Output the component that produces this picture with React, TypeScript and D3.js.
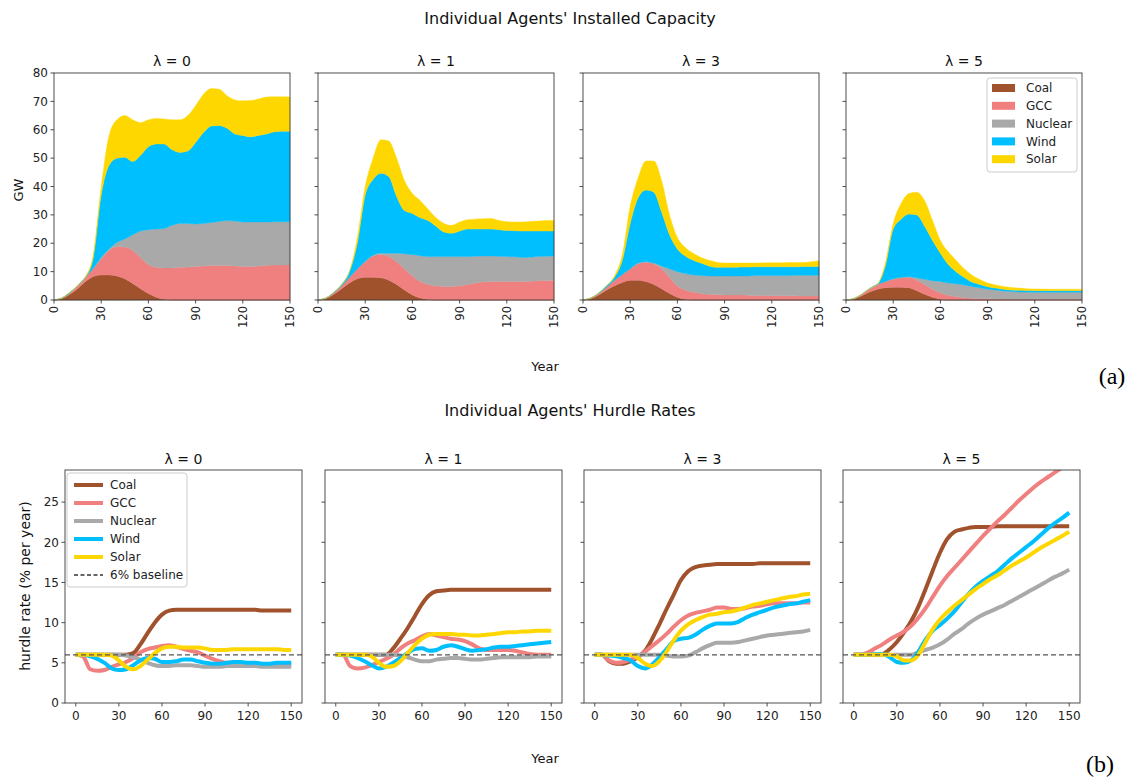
import React from "react";
import * as d3 from "d3";

const YEARS = [0,5,10,15,20,25,30,35,40,45,50,55,60,65,70,75,80,85,90,95,100,105,110,115,120,125,130,135,140,145,150];
const TECHS = ["Coal", "GCC", "Nuclear", "Wind", "Solar"];
const COLORS = ["#a0522d", "#f08080", "#a9a9a9", "#00bfff", "#ffd700"];
const LAMBDAS = ["λ = 0", "λ = 1", "λ = 3", "λ = 5"];
const CAP_TICKS_Y = [0,10,20,30,40,50,60,70,80];
const YEAR_TICKS = [0,30,60,90,120,150];
const HR_TICKS_Y = [0,5,10,15,20,25];

// Installed capacity (GW), per technology, λ = 0
const capCoal0 = [0,0.5,2,4,6.5,8.3,8.8,8.8,8.5,7.5,5.8,4,2.3,1,0.3,0,0,0,0,0,0,0,0,0,0,0,0,0,0,0,0];
const capGcc0 = [0,0.2,0.5,1,1.5,2.7,5.7,8.7,10.3,11.2,11.7,11,10.2,10.5,11,11.3,11.5,11.6,11.8,12,12.2,12.2,12.2,12,11.8,11.8,12,12.2,12.3,12.3,12.3];
const capNuc0 = [0,0,0,0,0,0.2,0.5,0.5,1.5,2.8,5.5,9.3,12.3,13.5,13.9,15,15.5,15.4,15,15,15.1,15.5,15.8,15.8,15.7,15.7,15.5,15.3,15.3,15.3,15.3];
const capWind0 = [0,0,0.2,0,0,3.8,22,29.5,29.7,28.8,25.8,26.7,29.2,30,29.8,26.7,25,25.5,28.7,32,34,33.8,32.5,30.7,30.5,30,30.5,31,31.7,31.9,31.9];
const capSolar0 = [0,0,0,0,0.2,1,3,10.5,13.5,14.7,14.7,11.5,9.5,9,8.8,10.5,11.5,12.5,13,13.5,13.2,12.8,11.5,12,12.2,12.8,12.8,13,12.3,12.1,12];
// λ = 1
const capCoal1 = [0,0.5,2,4,6,7.5,8,8,7.8,7,5.5,3.5,1.8,0.7,0.2,0,0,0,0,0,0,0,0,0,0,0,0,0,0,0,0];
const capGcc1 = [0,0.2,0.5,1,2,3.5,5.5,7.5,8.2,8.3,8,7.5,6.7,5.8,5.3,5,4.8,4.8,5,5.5,6,6.3,6.5,6.5,6.5,6.5,6.5,6.6,6.8,6.9,7];
const capNuc1 = [0,0,0,0,0,0,0.2,0.3,0.5,1.2,3,5.3,7.5,9.1,9.8,10.3,10.5,10.5,10.3,9.8,9.4,9.2,9,8.9,8.8,8.7,8.5,8.5,8.5,8.5,8.5];
const capWind1 = [0,0,0.2,0.5,2,9,23.3,26.7,28.2,27,20,15.2,14.5,13.4,12.7,10.7,8.7,8.2,9,9.7,9.6,9.5,9.5,9.4,9.2,9.2,9.3,9.2,9,8.9,8.8];
const capSolar1 = [0,0,0,0,0,2,3,7.5,11.8,12.5,13.5,10.5,7,6,4,3,3,2.8,3.2,3.3,3.5,3.6,3.7,3.2,3.1,3.1,3.2,3.4,3.5,3.7,3.7];
// λ = 3
const capCoal3 = [0,0.5,1.8,3.5,5,6.2,7,7,6.5,5.5,4,2.3,1,0.3,0,0,0,0,0,0,0,0,0,0,0,0,0,0,0,0,0];
const capGcc3 = [0,0.2,0.5,1,2,2.8,4,5.8,6.8,7.3,7,5.7,4,3.2,2.8,2.3,2,1.9,1.8,1.8,1.8,1.7,1.6,1.6,1.5,1.5,1.5,1.5,1.4,1.4,1.4];
const capNuc3 = [0,0,0,0,0,0,0,0.2,0.2,0.2,1,3,5,5.8,6,6.3,6.5,6.6,6.7,6.7,6.7,6.8,7,7,7.1,7.1,7.1,7.2,7.3,7.3,7.3];
const capWind3 = [0,0,0.2,0.5,1,5,16,23,25.3,25,19,12,8,6.2,5.2,4.4,3.5,3,3,3,3.1,3.1,3.1,3.1,3.1,3.1,3.1,3,3.1,3.1,3.1];
const capSolar3 = [0,0,0,0,0.5,2,6,7,10.2,11,11,7,4,3,2.5,2,2,1.8,1.5,1.5,1.4,1.4,1.3,1.4,1.4,1.4,1.5,1.5,1.4,1.7,2];
// λ = 5
const capCoal5 = [0,0.4,1.5,2.8,3.8,4.3,4.5,4.5,4.3,3.3,2,1,0.3,0,0,0,0,0,0,0,0,0,0,0,0,0,0,0,0,0,0];
const capGcc5 = [0,0.1,0.5,1.2,1.7,2.2,2.8,3.3,3.7,3.7,3.5,2.8,2.2,1.7,1.2,0.8,0.6,0.5,0.4,0.35,0.3,0.3,0.3,0.3,0.3,0.3,0.3,0.3,0.3,0.3,0.3];
const capNuc5 = [0,0,0,0,0,0,0.2,0.2,0.2,0.8,1.8,3,4,4.3,4.5,4.5,4.2,3.8,3.4,3.15,2.9,2.7,2.5,2.5,2.4,2.4,2.4,2.4,2.4,2.4,2.4];
const capWind5 = [0,0,0,0,0,5.5,17.5,20.5,22.1,22.2,18.7,14.2,10,6.5,4.3,2.7,1.5,1.2,0.9,0.7,0.6,0.5,0.6,0.55,0.6,0.6,0.6,0.6,0.6,0.6,0.6];
const capSolar5 = [0,0,0,0,0,1,2,5.5,7.2,8,9,7,4.5,4.5,4,3,2.5,1.7,1.3,1.1,1,0.9,0.8,0.65,0.6,0.55,0.5,0.5,0.5,0.5,0.5];

// Hurdle rates (% per year), λ = 0
const hrCoal0 = [6,6,6,6,6,6,6,6,6.2,7.3,8.7,10,11,11.5,11.6,11.6,11.6,11.6,11.6,11.6,11.6,11.6,11.6,11.6,11.6,11.6,11.5,11.5,11.5,11.5,11.5];
const hrGcc0 = [6,5.8,4.2,4.0,4.1,4.5,4.8,5.1,5.6,6.3,6.7,6.9,7.1,7.2,7.0,6.7,6.5,6.3,5.9,5.5,5.2,5.0,5.0,4.9,4.9,4.8,4.8,4.8,4.8,4.8,4.8];
const hrNuc0 = [6,6,6,6,6,6,6,5.9,5.7,5.4,5,4.7,4.6,4.6,4.7,4.7,4.7,4.6,4.5,4.5,4.5,4.6,4.6,4.6,4.6,4.6,4.5,4.5,4.5,4.5,4.5];
const hrWind0 = [6,6,5.8,5.5,5.0,4.3,4.1,4.2,4.7,5.3,5.6,5.5,5.1,5.1,5.2,5.4,5.4,5.2,5.0,4.9,4.9,5.0,5.1,5.1,5.0,5.0,4.9,4.9,5.0,5.0,5.0];
const hrSolar0 = [6,6,6,6,6,5.9,5.3,4.5,4.2,4.6,5.4,6.2,6.8,7.0,7.0,6.9,6.9,6.9,6.8,6.6,6.6,6.6,6.7,6.7,6.7,6.7,6.7,6.7,6.7,6.6,6.6];
// λ = 1
const hrCoal1 = [6,6,6,6,6,6,6,6,6.8,8.0,9.3,10.8,12.3,13.4,13.9,14.0,14.1,14.1,14.1,14.1,14.1,14.1,14.1,14.1,14.1,14.1,14.1,14.1,14.1,14.1,14.1];
const hrGcc1 = [6,6,4.6,4.3,4.4,4.7,5.1,5.5,6.0,6.8,7.4,7.8,8.3,8.6,8.4,8.2,8.0,7.9,7.7,7.3,6.8,6.6,6.6,6.6,6.6,6.5,6.3,6.1,6.0,6.0,6.0];
const hrNuc1 = [6,6,6,6,6,6,6,6,6,5.9,5.7,5.4,5.2,5.2,5.4,5.5,5.6,5.6,5.5,5.4,5.4,5.5,5.6,5.7,5.7,5.7,5.7,5.7,5.8,5.8,5.8];
const hrWind1 = [6,6,5.9,5.6,5.2,4.7,4.3,4.5,5.0,5.6,6.2,6.7,6.8,6.5,6.6,7.0,7.2,7.0,6.7,6.5,6.6,6.7,6.9,7.0,7.0,7.1,7.2,7.3,7.4,7.5,7.6];
const hrSolar1 = [6,6,6,6,6,5.8,5.0,4.5,4.6,5.2,6.2,7.2,8.0,8.5,8.6,8.6,8.6,8.5,8.5,8.4,8.4,8.5,8.6,8.7,8.8,8.8,8.9,8.9,9.0,9.0,9.0];
// λ = 3
const hrCoal3 = [6,6,5.2,4.9,4.9,5.2,5.7,6.5,8.0,9.8,11.7,13.5,15.3,16.4,16.9,17.1,17.2,17.3,17.3,17.3,17.3,17.3,17.3,17.4,17.4,17.4,17.4,17.4,17.4,17.4,17.4];
const hrGcc3 = [6,6,5.3,5.0,5.1,5.4,5.8,6.4,7.1,7.8,8.6,9.5,10.3,10.9,11.2,11.4,11.6,11.9,11.9,11.7,11.7,11.8,12.0,12.1,12.3,12.4,12.4,12.4,12.4,12.5,12.5];
const hrNuc3 = [6,6,6,6,6,6,6,6,6,6,5.9,5.8,5.8,5.9,6.3,6.8,7.2,7.5,7.5,7.5,7.6,7.8,8.0,8.2,8.4,8.5,8.6,8.7,8.8,8.9,9.1];
const hrWind3 = [6,6,5.9,5.8,5.6,5.3,4.6,4.3,4.8,5.7,6.7,7.7,8.0,8.1,8.5,9.1,9.6,9.9,9.9,9.9,10.1,10.6,11.0,11.3,11.6,11.9,12.1,12.3,12.4,12.6,12.8];
const hrSolar3 = [6,6,6,6,6,6,5.6,4.9,4.6,5.2,6.4,7.8,9.0,9.8,10.3,10.7,11.0,11.1,11.3,11.4,11.6,11.9,12.2,12.4,12.6,12.8,13.0,13.2,13.3,13.5,13.6];
// λ = 5
const hrCoal5 = [6,6,6,6,6.1,6.7,7.6,8.8,10.2,12.0,14.2,16.5,18.7,20.4,21.3,21.6,21.8,21.9,21.9,21.9,22.0,22.0,22.0,22.0,22.0,22.0,22.0,22.0,22.0,22.0,22.0];
const hrGcc5 = [6,6,6.3,6.8,7.3,7.9,8.4,8.9,9.6,10.6,11.8,13.2,14.6,15.8,16.8,17.8,18.8,19.8,20.8,21.7,22.6,23.4,24.3,25.2,26.0,26.8,27.5,28.1,28.7,29.3,29.9];
const hrNuc5 = [6,6,6,6,6,6,6,6,6,6.3,6.6,6.9,7.3,7.9,8.6,9.2,9.9,10.5,11.0,11.4,11.8,12.2,12.7,13.2,13.7,14.2,14.7,15.2,15.7,16.1,16.6];
const hrWind5 = [6,6,6,6.1,6.1,5.7,5.1,5.0,5.3,6.4,7.9,9.0,9.7,10.5,11.4,12.5,13.6,14.5,15.2,15.8,16.4,17.2,18.0,18.7,19.4,20.1,20.9,21.7,22.4,23.0,23.7];
const hrSolar5 = [6,6,6,6,6,6,5.8,5.3,5.3,6.0,7.6,9.2,10.4,11.3,12.1,12.8,13.5,14.2,14.8,15.4,15.9,16.5,17.1,17.6,18.1,18.7,19.3,19.8,20.3,20.8,21.3];
const BASELINE = 6;

const CAP_SETS = [
  [capCoal0, capGcc0, capNuc0, capWind0, capSolar0],
  [capCoal1, capGcc1, capNuc1, capWind1, capSolar1],
  [capCoal3, capGcc3, capNuc3, capWind3, capSolar3],
  [capCoal5, capGcc5, capNuc5, capWind5, capSolar5],
];
const HR_SETS = [
  [hrCoal0, hrGcc0, hrNuc0, hrWind0, hrSolar0],
  [hrCoal1, hrGcc1, hrNuc1, hrWind1, hrSolar1],
  [hrCoal3, hrGcc3, hrNuc3, hrWind3, hrSolar3],
  [hrCoal5, hrGcc5, hrNuc5, hrWind5, hrSolar5],
];

const FONT = "'DejaVu Sans', sans-serif";
const AXIS = "#3a3a3a";

const TOP_LEFTS = [54, 318, 583, 846];
const TOP_W = 236, TOP_Y0 = 73, TOP_Y1 = 300;
const BOT_LEFTS = [65, 325, 584, 843];
const BOT_W = 237, BOT_Y0 = 470, BOT_Y1 = 703;

function CapPanel({ idx }: { idx: number }) {
  const left = TOP_LEFTS[idx];
  const x = d3.scaleLinear().domain([0, 150]).range([left, left + TOP_W]);
  const y = d3.scaleLinear().domain([0, 80]).range([TOP_Y1, TOP_Y0]);
  const set = CAP_SETS[idx];
  const rows = YEARS.map((yr, i) => {
    const r: any = { year: yr };
    TECHS.forEach((t, k) => (r[t] = set[k][i]));
    return r;
  });
  const stacked = d3.stack().keys(TECHS)(rows);
  const area = d3
    .area<any>()
    .x((d) => x(d.data.year))
    .y0((d) => y(d[0]))
    .y1((d) => y(d[1]))
    .curve(d3.curveMonotoneX);
  return (
    <g>
      {stacked.map((s, k) => (
        <path key={k} d={area(s as any) || ""} fill={COLORS[k]} stroke={COLORS[k]} strokeWidth={0.4} />
      ))}
      <rect x={left} y={TOP_Y0} width={TOP_W} height={TOP_Y1 - TOP_Y0} fill="none" stroke={AXIS} strokeWidth={0.9} />
      {CAP_TICKS_Y.map((t) => (
        <g key={t}>
          <line x1={left - 3.5} x2={left} y1={y(t)} y2={y(t)} stroke={AXIS} strokeWidth={0.9} />
          {idx === 0 && (
            <text x={left - 6} y={y(t)} dy="0.35em" textAnchor="end" fontSize={12} fill="#222" fontFamily={FONT}>
              {t}
            </text>
          )}
        </g>
      ))}
      {YEAR_TICKS.map((t) => (
        <g key={t}>
          <line x1={x(t)} x2={x(t)} y1={TOP_Y1} y2={TOP_Y1 + 3.5} stroke={AXIS} strokeWidth={0.9} />
          <text
            transform={`translate(${x(t)},${TOP_Y1 + 6}) rotate(-90)`}
            dy="0.35em"
            textAnchor="end"
            fontSize={11.5}
            fill="#222"
            fontFamily={FONT}
          >
            {t}
          </text>
        </g>
      ))}
      <text x={left + TOP_W / 2} y={TOP_Y0 - 7} textAnchor="middle" fontSize={14} fill="#111" fontFamily={FONT}>
        {LAMBDAS[idx]}
      </text>
    </g>
  );
}

function HrPanel({ idx }: { idx: number }) {
  const left = BOT_LEFTS[idx];
  const x = d3.scaleLinear().domain([-7.5, 157.5]).range([left, left + BOT_W]);
  const y = d3.scaleLinear().domain([0, 29]).range([BOT_Y1, BOT_Y0]);
  const set = HR_SETS[idx];
  const line = d3
    .line<number>()
    .x((_, i) => x(YEARS[i]))
    .y((d) => y(d))
    .curve(d3.curveMonotoneX);
  const clipId = `hrclip${idx}`;
  return (
    <g>
      <defs>
        <clipPath id={clipId}>
          <rect x={left} y={BOT_Y0} width={BOT_W} height={BOT_Y1 - BOT_Y0} />
        </clipPath>
      </defs>
      <g clipPath={`url(#${clipId})`}>
        {set.map((s, k) => (
          <path key={k} d={line(s) || ""} fill="none" stroke={COLORS[k]} strokeWidth={4} strokeLinejoin="round" />
        ))}
        <line
          x1={left}
          x2={left + BOT_W}
          y1={y(BASELINE)}
          y2={y(BASELINE)}
          stroke="#555"
          strokeWidth={1.3}
          strokeDasharray="5,3"
        />
      </g>
      <rect x={left} y={BOT_Y0} width={BOT_W} height={BOT_Y1 - BOT_Y0} fill="none" stroke={AXIS} strokeWidth={0.9} />
      {HR_TICKS_Y.map((t) => (
        <g key={t}>
          <line x1={left - 3.5} x2={left} y1={y(t)} y2={y(t)} stroke={AXIS} strokeWidth={0.9} />
          {idx === 0 && (
            <text x={left - 6} y={y(t)} dy="0.35em" textAnchor="end" fontSize={12} fill="#222" fontFamily={FONT}>
              {t}
            </text>
          )}
        </g>
      ))}
      {YEAR_TICKS.map((t) => (
        <g key={t}>
          <line x1={x(t)} x2={x(t)} y1={BOT_Y1} y2={BOT_Y1 + 3.5} stroke={AXIS} strokeWidth={0.9} />
          <text x={x(t)} y={BOT_Y1 + 17} textAnchor="middle" fontSize={12} fill="#222" fontFamily={FONT}>
            {t}
          </text>
        </g>
      ))}
      <text x={left + BOT_W / 2} y={BOT_Y0 - 6} textAnchor="middle" fontSize={14} fill="#111" fontFamily={FONT}>
        {LAMBDAS[idx]}
      </text>
    </g>
  );
}

function CapLegend() {
  const x0 = 987, y0 = 78;
  return (
    <g fontFamily={FONT}>
      <rect x={x0} y={y0} width={90} height={94} rx={3} fill="white" fillOpacity={0.85} stroke="#ccc" />
      {TECHS.map((t, k) => (
        <g key={t}>
          <rect x={x0 + 5} y={y0 + 6 + k * 17.8} width={23} height={8} fill={COLORS[k]} />
          <text x={x0 + 39} y={y0 + 10 + k * 17.8} dy="0.35em" fontSize={12} fill="#222">
            {t}
          </text>
        </g>
      ))}
    </g>
  );
}

function HrLegend() {
  const x0 = 67, y0 = 473;
  const items = [...TECHS.map((t, k) => ({ t, c: COLORS[k], dash: false })), { t: "6% baseline", c: "#333", dash: true }];
  return (
    <g fontFamily={FONT}>
      <rect x={x0} y={y0} width={120} height={114} rx={3} fill="white" fillOpacity={0.85} stroke="#ccc" />
      {items.map((it, k) => (
        <g key={it.t}>
          <line
            x1={x0 + 7}
            x2={x0 + 36}
            y1={y0 + 12 + k * 18}
            y2={y0 + 12 + k * 18}
            stroke={it.c}
            strokeWidth={it.dash ? 1.3 : 4}
            strokeDasharray={it.dash ? "4,2.5" : undefined}
          />
          <text x={x0 + 43} y={y0 + 12 + k * 18} dy="0.35em" fontSize={12} fill="#222">
            {it.t}
          </text>
        </g>
      ))}
    </g>
  );
}

export default function App() {
  return (
    <svg width={1131} height={778} style={{ position: "absolute", left: 0, top: 0, background: "white" }}>
      <rect width={1131} height={778} fill="white" />
      <text x={570} y={24} textAnchor="middle" fontSize={16} fill="#111" fontFamily={FONT}>
        Individual Agents' Installed Capacity
      </text>
      <text
        transform="translate(18,190) rotate(-90)"
        textAnchor="middle"
        dy="0.35em"
        fontSize={13}
        fill="#111"
        fontFamily={FONT}
      >
        GW
      </text>
      {[0, 1, 2, 3].map((i) => (
        <CapPanel key={i} idx={i} />
      ))}
      <CapLegend />
      <text x={545} y={371} textAnchor="middle" fontSize={13} fill="#111" fontFamily={FONT}>
        Year
      </text>
      <text x={1112} y={384} textAnchor="middle" fontSize={24} fill="#000" fontFamily="'Liberation Serif', serif">
        (a)
      </text>

      <text x={570} y={416} textAnchor="middle" fontSize={16} fill="#111" fontFamily={FONT}>
        Individual Agents' Hurdle Rates
      </text>
      <text
        transform="translate(25,586) rotate(-90)"
        textAnchor="middle"
        dy="0.35em"
        fontSize={14}
        fill="#111"
        fontFamily={FONT}
      >
        hurdle rate (% per year)
      </text>
      {[0, 1, 2, 3].map((i) => (
        <HrPanel key={i} idx={i} />
      ))}
      <HrLegend />
      <text x={545} y={763} textAnchor="middle" fontSize={13} fill="#111" fontFamily={FONT}>
        Year
      </text>
      <text x={1100} y={772} textAnchor="middle" fontSize={24} fill="#000" fontFamily="'Liberation Serif', serif">
        (b)
      </text>
    </svg>
  );
}
